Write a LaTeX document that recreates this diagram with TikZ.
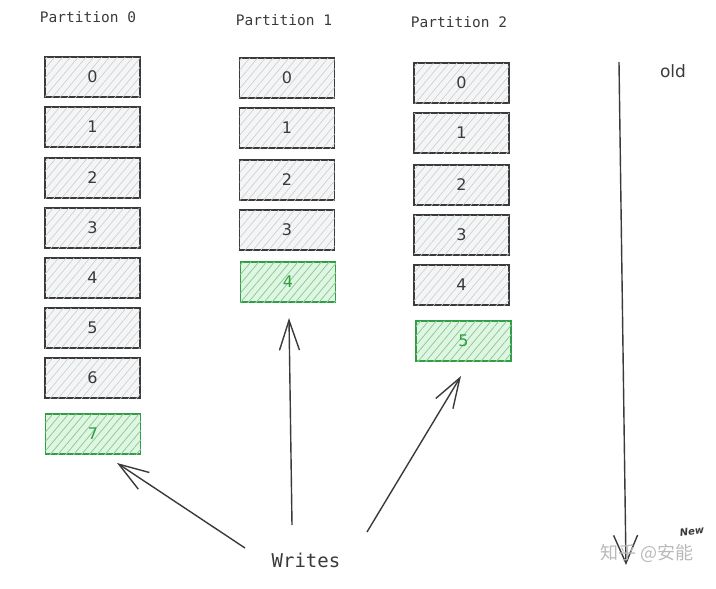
\documentclass[tikz,border=0pt]{standalone}
\usepackage{fontspec}
\setmonofont{DejaVu Sans Mono}
\setsansfont{DejaVu Sans}
\newfontfamily\cjk{Noto Sans CJK SC}
\usetikzlibrary{arrows.meta,patterns.meta}
\definecolor{ink}{HTML}{3A3A3A}
\definecolor{grn}{HTML}{2F9E44}
\definecolor{grnfill}{HTML}{DDF7E1}
\definecolor{gryfill}{HTML}{F4F5F6}
\tikzset{
  cell/.style={draw=ink, line width=1.5pt, fill=gryfill, minimum width=95pt, minimum height=40pt,
    postaction={pattern={Lines[angle=50,distance=6pt,line width=0.6pt]}, pattern color=gray!40},
    font=\sffamily\fontsize{16}{16}\selectfont, text=ink, inner sep=0pt},
  newcell/.style={cell, draw=grn, fill=grnfill, text=grn,
    postaction={pattern={Lines[angle=50,distance=6pt,line width=0.6pt]}, pattern color=grn!55}},
  title/.style={font=\ttfamily\fontsize{14.5}{14.5}\selectfont, text=ink},
  wr/.style={draw=ink, line width=1.4pt, -{Straight Barb[length=30pt,width=20pt,line width=1.4pt]}},
}
\begin{document}
\begin{tikzpicture}[x=1pt,y=-1pt]
\useasboundingbox (0,0) rectangle (716,589);
% titles
\node[title] (t0) at (88,17) {Partition 0};
\node[title] (t1) at (284,20) {Partition 1};
\node[title] (t2) at (459,22) {Partition 2};
% partition 0
\foreach \n/\y in {0/77,1/127,2/178,3/228,4/278,5/328,6/378}
  \node[cell] (a\n) at (92.5,\y) {\n};
\node[newcell] (a7) at (93,434) {7};
% partition 1
\foreach \n/\y in {0/78,1/128,2/180,3/230}
  \node[cell] (b\n) at (287,\y) {\n};
\node[newcell] (b4) at (288,282) {4};
% partition 2
\foreach \n/\y in {0/83,1/133,2/185,3/235,4/285}
  \node[cell] (c\n) at (461.5,\y) {\n};
\node[newcell] (c5) at (463.5,341) {5};
% writes
\node[font=\ttfamily\fontsize{19}{19}\selectfont, text=ink] (w) at (306,560) {Writes};
\coordinate (w0) at (245,548);
\coordinate (w1) at (292,525);
\coordinate (w2) at (367,532);
\coordinate (h0) at (117,463);
\coordinate (h1) at (289,318);
\coordinate (h2) at (461,376);
\draw[wr] (w0) -- (h0);
\draw[wr] (w1) -- (h1);
\draw[wr] (w2) -- (h2);
% time axis
\coordinate (top) at (619,62);
\coordinate (bot) at (626,565);
\draw[wr, -{Straight Barb[length=28pt,width=24pt,line width=1.4pt]}] (top) -- (bot);
\node[font=\sffamily\fontsize{17}{17}\selectfont, text=ink] (old) at (673,71) {old};
\node[font=\sffamily\bfseries\itshape\fontsize{10}{10}\selectfont, text=ink, rotate=8] (new) at (692,531) {New};
% watermark
\node[font=\cjk\fontsize{18}{18}\selectfont, text=gray!55] (wm) at (647,553) {知乎 @安能};
\end{tikzpicture}
\end{document}
